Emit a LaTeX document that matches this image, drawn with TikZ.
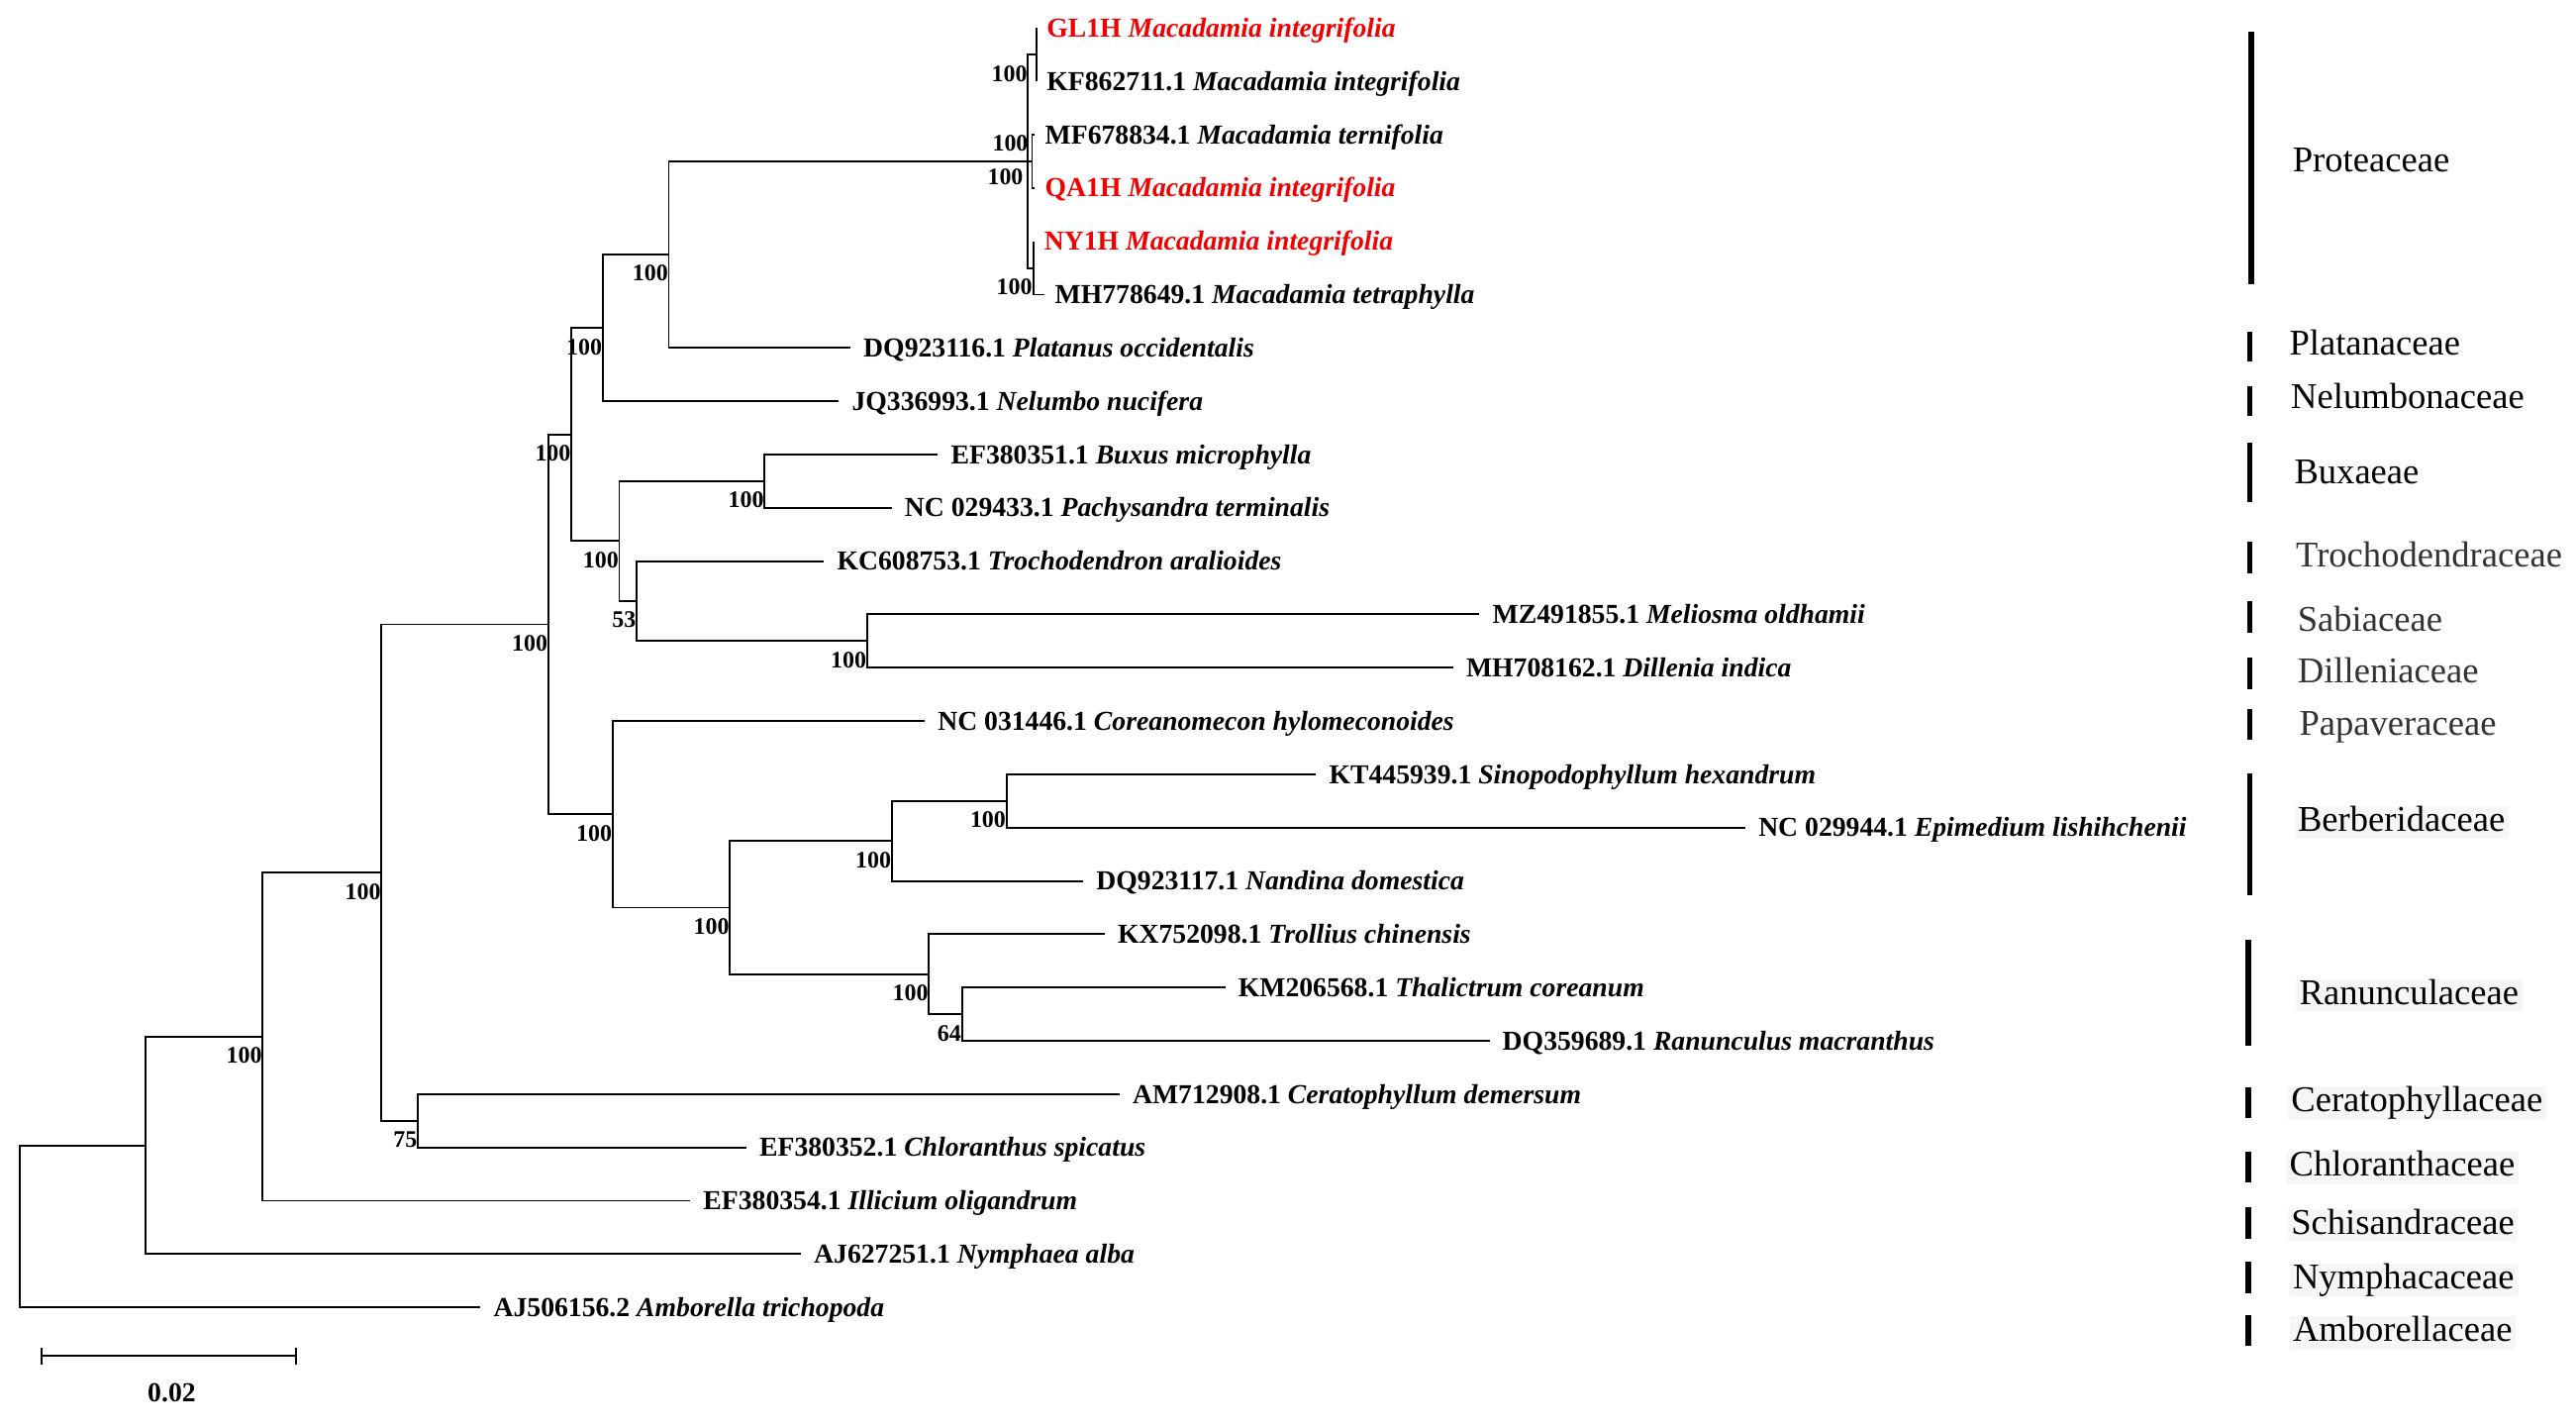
\documentclass[tikz,border=0pt]{standalone}
\usepackage{fontspec}
\setmainfont{Liberation Serif}
\usepackage{tikz}
\definecolor{famgrey}{RGB}{51, 51, 51}
\definecolor{boxgrey}{RGB}{246, 246, 246}
\definecolor{selred}{RGB}{240, 0, 0}
\newcommand{\tipfont}{\fontsize{7.87pt}{9pt}\selectfont\bfseries}
\newcommand{\bootfont}{\fontsize{6.8pt}{7.8pt}\selectfont\bfseries}
\newcommand{\famfont}{\fontsize{10.4pt}{12pt}\selectfont}
\tikzset{
    br/.style={draw, line width=0.55pt},
    tip/.style={anchor=west, inner xsep=0.125cm, inner ysep=0pt, font=\tipfont, text height=5.2pt, text depth=0pt},
    tipP/.style={tip, inner xsep=0.1cm},
    sel/.style={text=selred},
    boot/.style={anchor=east, inner sep=0pt, font=\bootfont},
    bar/.style={draw, line width=1.6pt},
    fam/.style={anchor=west, inner sep=0pt, font=\famfont, text height=7.2pt, text depth=2.3pt},
    famGrey/.style={fam, text=famgrey},
    famBox/.style={fam, fill=boxgrey, inner xsep=1pt},
}

\begin{document}
\begin{tikzpicture}[x=0.016667cm, y=-0.016667cm]
            \useasboundingbox (0,0) rectangle (1560,864.5);

            % inner nodes
            \coordinate (r) at (12, 742.45);
            \coordinate (c1) at (88, 693.41);
            \coordinate (c2) at (159, 627.61);
            \coordinate (c3) at (231, 528.28);
            \coordinate (c4) at (253, 678.54);
            \coordinate (c5) at (332, 378.02);
            \coordinate (c6) at (346, 263.06);
            \coordinate (c7) at (365, 198.52);
            \coordinate (c8) at (405, 154.15);
            \coordinate (c9) at (622.5, 97.68);
            \coordinate (c10) at (627.5, 33.14);
            \coordinate (c11) at (625, 97.68);
            \coordinate (c12) at (626, 162.22);
            \coordinate (c13) at (375, 327.60);
            \coordinate (c14) at (463, 291.30);
            \coordinate (c15) at (385.5, 363.90);
            \coordinate (c16) at (525, 388.11);
            \coordinate (c17) at (371, 492.99);
            \coordinate (c18) at (442, 549.46);
            \coordinate (c19) at (540, 509.12);
            \coordinate (c20) at (609.5, 484.92);
            \coordinate (c21) at (562.5, 589.80);
            \coordinate (c22) at (582.5, 614.00);

            % leaves
            \node[tipP, sel] (gl) at (627.5, 17.00) {GL1H \textit{Macadamia integrifolia}};
            \node[tipP] (kf) at (627.5, 49.27) {KF862711.1 \textit{Macadamia integrifolia}};
            \node[tipP] (mf) at (626.5, 81.54) {MF678834.1 \textit{Macadamia ternifolia}};
            \node[tipP, sel] (qa) at (626.5, 113.81) {QA1H \textit{Macadamia integrifolia}};
            \node[tipP, sel] (ny) at (626, 146.08) {NY1H \textit{Macadamia integrifolia}};
            \node[tipP] (mh) at (632.5, 178.35) {MH778649.1 \textit{Macadamia tetraphylla}};
            \node[tip] (pla) at (515, 210.62) {DQ923116.1 \textit{Platanus occidentalis}};
            \node[tip] (nel) at (508, 242.89) {JQ336993.1 \textit{Nelumbo nucifera}};
            \node[tip] (bux) at (568, 275.16) {EF380351.1 \textit{Buxus microphylla}};
            \node[tip] (pac) at (540, 307.43) {NC 029433.1 \textit{Pachysandra terminalis}};
            \node[tip] (tro) at (499, 339.70) {KC608753.1 \textit{Trochodendron aralioides}};
            \node[tip] (mel) at (896, 371.97) {MZ491855.1 \textit{Meliosma oldhamii}};
            \node[tip] (dil) at (880, 404.24) {MH708162.1 \textit{Dillenia indica}};
            \node[tip] (cor) at (560, 436.51) {NC 031446.1 \textit{Coreanomecon hylomeconoides}};
            \node[tip] (sin) at (797, 468.78) {KT445939.1 \textit{Sinopodophyllum hexandrum}};
            \node[tip] (epi) at (1057, 501.05) {NC 029944.1 \textit{Epimedium lishihchenii}};
            \node[tip] (nan) at (656, 533.32) {DQ923117.1 \textit{Nandina domestica}};
            \node[tip] (trl) at (669, 565.59) {KX752098.1 \textit{Trollius chinensis}};
            \node[tip] (tha) at (742, 597.86) {KM206568.1 \textit{Thalictrum coreanum}};
            \node[tip] (ran) at (902, 630.13) {DQ359689.1 \textit{Ranunculus macranthus}};
            \node[tip] (cer) at (678, 662.40) {AM712908.1 \textit{Ceratophyllum demersum}};
            \node[tip] (chl) at (452, 694.67) {EF380352.1 \textit{Chloranthus spicatus}};
            \node[tip] (ill) at (418, 726.94) {EF380354.1 \textit{Illicium oligandrum}};
            \node[tip] (nym) at (485, 759.21) {AJ627251.1 \textit{Nymphaea alba}};
            \node[tip] (amb) at (291, 791.48) {AJ506156.2 \textit{Amborella trichopoda}};

            % branches
            \draw[br] (r) |- (c1);
            \draw[br] (r) |- (amb.west);
            \draw[br] (c1) |- (c2);
            \draw[br] (c1) |- (nym.west);
            \draw[br] (c2) |- (c3);
            \draw[br] (c2) |- (ill.west);
            \draw[br] (c3) |- (c5);
            \draw[br] (c3) |- (c4);
            \draw[br] (c4) |- (cer.west);
            \draw[br] (c4) |- (chl.west);
            \draw[br] (c5) |- (c6);
            \draw[br] (c5) |- (c17);
            \draw[br] (c6) |- (c7);
            \draw[br] (c6) |- (c13);
            \draw[br] (c7) |- (c8);
            \draw[br] (c7) |- (nel.west);
            \draw[br] (c8) |- (c9);
            \draw[br] (c8) |- (pla.west);
            \draw[br] (c9) |- (c10);
            \draw[br] (c9) -- (c11);
            \draw[br] (c9) |- (c12);
            \draw[br] (c10) |- (gl.west);
            \draw[br] (c10) |- (kf.west);
            \draw[br] (c11) |- (mf.west);
            \draw[br] (c11) |- (qa.west);
            \draw[br] (c12) |- (ny.west);
            \draw[br] (c12) |- (mh.west);
            \draw[br] (c13) |- (c14);
            \draw[br] (c13) |- (c15);
            \draw[br] (c14) |- (bux.west);
            \draw[br] (c14) |- (pac.west);
            \draw[br] (c15) |- (tro.west);
            \draw[br] (c15) |- (c16);
            \draw[br] (c16) |- (mel.west);
            \draw[br] (c16) |- (dil.west);
            \draw[br] (c17) |- (cor.west);
            \draw[br] (c17) |- (c18);
            \draw[br] (c18) |- (c19);
            \draw[br] (c18) |- (c21);
            \draw[br] (c19) |- (c20);
            \draw[br] (c19) |- (nan.west);
            \draw[br] (c20) |- (sin.west);
            \draw[br] (c20) |- (epi.west);
            \draw[br] (c21) |- (trl.west);
            \draw[br] (c21) |- (c22);
            \draw[br] (c22) |- (tha.west);
            \draw[br] (c22) |- (ran.west);

            % bootstrap values
            \node[boot] (b2) at (159, 639.1) {100};
            \node[boot] (b3) at (231, 539.8) {100};
            \node[boot] (b4) at (253, 690.0) {75};
            \node[boot] (b5) at (332, 389.5) {100};
            \node[boot] (b6) at (346, 274.6) {100};
            \node[boot] (b7) at (365, 210.0) {100};
            \node[boot] (b8) at (405, 165.2) {100};
            \node[boot] (b9) at (623, 87) {100};
            \node[boot] (b10) at (622.5, 44.6) {100};
            \node[boot] (b11) at (620, 107) {100};
            \node[boot] (b12) at (625.5, 173.7) {100};
            \node[boot] (b13) at (375, 339.1) {100};
            \node[boot] (b14) at (463, 302.8) {100};
            \node[boot] (b15) at (385.5, 375.4) {53};
            \node[boot] (b16) at (525, 399.6) {100};
            \node[boot] (b17) at (371, 504.5) {100};
            \node[boot] (b18) at (442, 561.0) {100};
            \node[boot] (b19) at (540, 520.6) {100};
            \node[boot] (b20) at (609.5, 496.4) {100};
            \node[boot] (b21) at (562.5, 601.3) {100};
            \node[boot] (b22) at (582.5, 625.5) {64};

            % scale bar
            \coordinate (sb1) at (25, 821);
            \coordinate (sb2) at (179, 821);
            \draw[br] (sb1) -- (sb2);
            \draw[br] ([yshift=-2.5]sb1) -- ([yshift=2.5]sb1);
            \draw[br] ([yshift=-2.5]sb2) -- ([yshift=2.5]sb2);
            \node[font=\tipfont, inner sep=0pt] (sc) at (104, 843) {0.02};

            % families
            \draw[bar] (1363.5, 19) -- (1363.5, 172);
            \draw[bar] (1362.5, 201) -- (1362.5, 219);
            \draw[bar] (1362.5, 234) -- (1362.5, 252);
            \draw[bar] (1362.5, 268) -- (1362.5, 304);
            \draw[bar] (1362.5, 328) -- (1362.5, 347);
            \draw[bar] (1362.5, 364) -- (1362.5, 383);
            \draw[bar] (1362.5, 398) -- (1362.5, 417);
            \draw[bar] (1362.5, 429) -- (1362.5, 448);
            \draw[bar] (1362.5, 468) -- (1362.5, 542);
            \draw[bar] (1361.5, 569) -- (1361.5, 633);
            \draw[bar] (1361.5, 658) -- (1361.5, 677);
            \draw[bar] (1361.5, 697) -- (1361.5, 716);
            \draw[bar] (1361.5, 731) -- (1361.5, 750);
            \draw[bar] (1361.5, 764) -- (1361.5, 783);
            \draw[bar] (1361.5, 796) -- (1361.5, 815);

            \node[fam] (f1) at (1388, 99) {Proteaceae};
            \node[fam] (f2) at (1386, 210) {Platanaceae};
            \node[fam] (f3) at (1387, 242) {Nelumbonaceae};
            \node[fam] (f4) at (1389, 288) {Buxaeae};
            \node[famGrey] (f5) at (1390, 338) {Trochodendraceae};
            \node[famGrey] (f6) at (1391, 377) {Sabiaceae};
            \node[famGrey] (f7) at (1391, 408) {Dilleniaceae};
            \node[famGrey] (f8) at (1392, 440) {Papaveraceae};
            \node[famBox] (f9) at (1389, 498) {Berberidaceae};
            \node[famBox] (f10) at (1390, 603) {Ranunculaceae};
            \node[famBox] (f11) at (1385, 668) {Ceratophyllaceae};
            \node[famBox] (f12) at (1384, 707) {Chloranthaceae};
            \node[famBox] (f13) at (1385, 742) {Schisandraceae};
            \node[famBox] (f14) at (1386, 775) {Nymphacaceae};
            \node[famBox] (f15) at (1386, 807) {Amborellaceae};
\end{tikzpicture}
\end{document}
